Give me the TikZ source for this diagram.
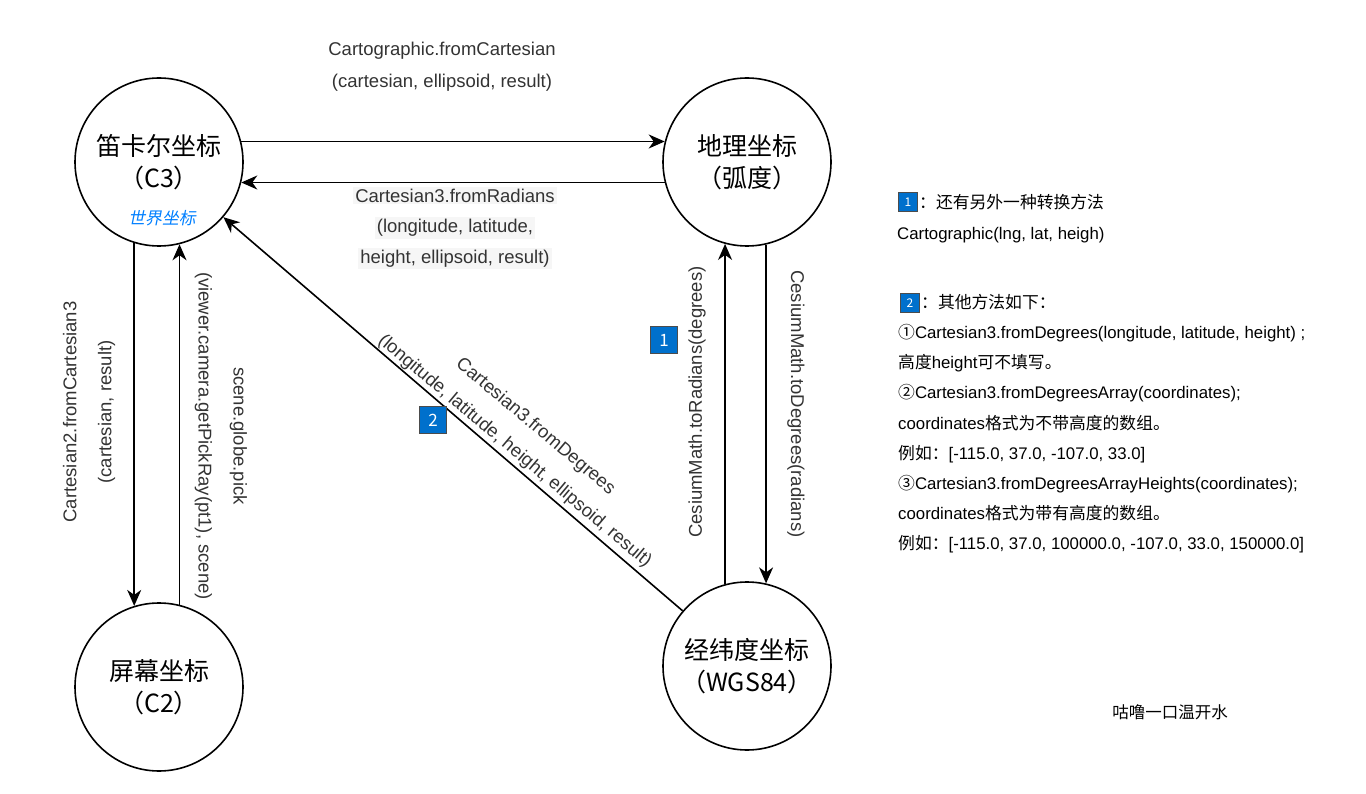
\documentclass[tikz,border=0pt]{standalone}
\usepackage{fontspec}
\setmainfont{Liberation Sans}
\newfontfamily\cjk{Noto Sans CJK SC}
\newfontfamily\cjkslant[FakeSlant=0.2]{Noto Sans CJK SC}
\usepackage{xcolor}
\usepackage{tikz}
\usetikzlibrary{shapes,arrows,arrows.meta}
\definecolor{badgeblue}{RGB}{0,112,204}
\definecolor{worldblue}{RGB}{0,127,255}
\definecolor{lblgray}{HTML}{333333}
\definecolor{lblbg}{HTML}{F6F6F6}
\newcommand{\zh}[1]{{\cjk #1}}
\newcommand{\lblfont}{\fontsize{18.5}{32}\selectfont}
\newcommand{\notefont}{\fontsize{16.8}{30}\selectfont}
\newcommand{\bgline}[1]{{\setlength{\fboxsep}{2pt}\colorbox{lblbg}{#1}}}
\tikzstyle{sys} = [circle,draw=black,line width=1.6pt,minimum size=168pt,inner sep=0pt,align=center,font=\cjk\fontsize{25}{32}\selectfont]
\tikzstyle{arrow} = [line width=1.6pt,->,>={Stealth[length=16pt,width=14pt,inset=5pt]}]
\tikzstyle{lbl} = [text=lblgray,font=\lblfont,align=center,inner sep=0pt]
\tikzstyle{badge} = [rectangle,draw=black!70,fill=badgeblue,text=white,minimum size=27pt,inner sep=0pt,font=\cjk\fontsize{17}{17}\selectfont]
\tikzstyle{smallbadge} = [badge,minimum size=19pt,font=\cjk\fontsize{12}{12}\selectfont]
\tikzstyle{note} = [font=\notefont,inner sep=0pt,anchor=base west]

\begin{document}
\begin{tikzpicture}[x=1pt,y=-1pt]
\useasboundingbox (0,0) rectangle (1366,794);
\node (c3) [sys] at (159,162) {笛卡尔坐标\\（C3）};
\node (geo) [sys] at (747,162) {地理坐标\\（弧度）};
\node (screen) [sys] at (159,687) {屏幕坐标\\（C2）};
\node (wgs) [sys] at (747,666) {经纬度坐标\\（WGS84）};
\node (world) [text=worldblue,font=\cjkslant\fontsize{16.8}{20}\selectfont] at (162,218) {世界坐标};

\draw [arrow] (c3.14) -- (geo.166);
\draw [arrow] (geo.194) -- (c3.-14);
\draw [arrow] (c3.-107) -- (screen.107);
\draw [arrow] (screen.76) -- (c3.-76);
\draw [arrow] (wgs.105) -- (geo.-105);
\draw [arrow] (geo.-77) -- (wgs.77);
\draw [arrow] (wgs) -- (c3);

\node (lblTop) [lbl] at (442,67) {Cartographic.fromCartesian\\(cartesian, ellipsoid, result)};
\node (lblRad) [lbl,font=\fontsize{18.5}{30.5}\selectfont] at (455,228) {\bgline{Cartesian3.fromRadians}\\\bgline{(longitude, latitude,}\\\bgline{height, ellipsoid, result)}};
\node (lblScr) [lbl,rotate=90] at (89,412) {Cartesian2.fromCartesian3\\[3pt](cartesian, result)};
\node (lblPick) [lbl,rotate=-90] at (221,436) {scene.globe.pick\\[3pt](viewer.camera.getPickRay(pt1), scene)};
\node (lblToRad) [lbl,rotate=90] at (697,402) {CesiumMath.toRadians(degrees)};
\node (lblToDeg) [lbl,rotate=-90] at (796,404) {CesiumMath.toDegrees(radians)};
\node (lblDeg) [lbl,rotate=-40] at (525,439) {Cartesian3.fromDegrees\\(longitude, latitude, height, ellipsoid, result)};

\node (badge1) [badge] at (664,340) {1};
\node (badge2) [badge] at (433,420) {2};

\node (key1) [smallbadge] at (908,202) {1};
\node (note1) [note] at (919,209) {\zh{：还有另外一种转换方法}};
\node (note2) [note] at (897,240) {Cartographic(lng, lat, heigh)};
\node (key2) [smallbadge] at (910,303) {2};
\node (note3) [note] at (921,309) {\zh{：其他方法如下：}};
\foreach \txt [count=\i] in {
  {\zh{①}Cartesian3.fromDegrees(longitude, latitude, height) ;},
  {\zh{高度}height\zh{可不填写。}},
  {\zh{②}Cartesian3.fromDegreesArray(coordinates);},
  {coordinates\zh{格式为不带高度的数组。}},
  {\zh{例如：}[-115.0, 37.0, -107.0, 33.0]},
  {\zh{③}Cartesian3.fromDegreesArrayHeights(coordinates);},
  {coordinates\zh{格式为带有高度的数组。}},
  {\zh{例如：}[-115.0, 37.0, 100000.0, -107.0, 33.0, 150000.0]}}
  \node (way\i) [note] at (898,309+30*\i) {\txt};

\node (sign) [font=\cjk\fontsize{16.5}{20}\selectfont] at (1170,712) {咕噜一口温开水};
\end{tikzpicture}
\end{document}
